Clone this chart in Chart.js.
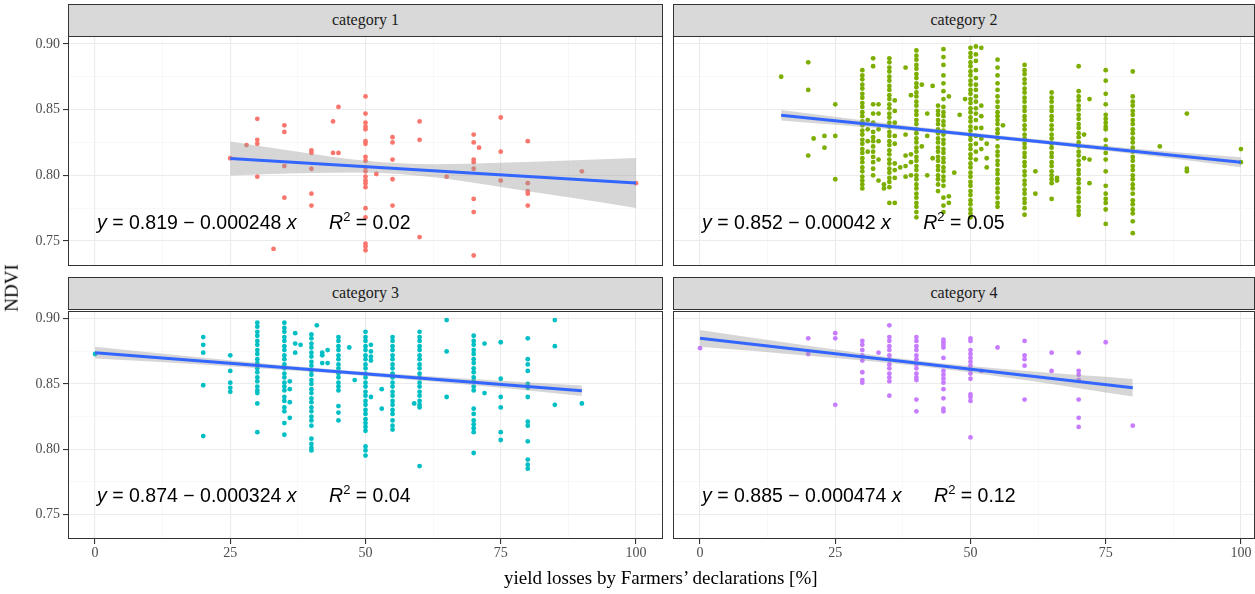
<!DOCTYPE html>
<html>
<head>
<meta charset="utf-8">
<script src="https://cdn.jsdelivr.net/npm/chart.js@4.4.1/dist/chart.umd.min.js"></script>
<style>
  html, body { margin: 0; padding: 0; background: #fff; width: 1255px; height: 594px; overflow: hidden; }
  canvas { position: absolute; }
  .strip { position: absolute; box-sizing: border-box; background: #d9d9d9; border: 1px solid #333;
           font-family: "Liberation Serif", serif; font-size: 16px; color: #1a1a1a; text-align: center; }
  .title { position: absolute; font-family: "Liberation Serif", serif; font-size: 19px; color: #000; white-space: nowrap; }
</style>
</head>
<body>
<script>
// facet labels and colours
const categories = ['category 1', 'category 2', 'category 3', 'category 4'];
const colors = ['#F8766D', '#7CAE00', '#00BFC4', '#C77CFF'];

// axis ticks
const xMajor = [0, 25, 50, 75, 100];
const xMinor = [12.5, 37.5, 62.5, 87.5];
const yMajor = [0.75, 0.80, 0.85, 0.90];
const yMinor = [0.775, 0.825, 0.875];

// points, grouped by x: [x, [ndvi values]]
const cat1Cols = [
  [25, [0.813]], [28, [0.823]], [30, [0.843, 0.827, 0.824, 0.799]],
  [33, [0.744]], [35, [0.838, 0.833, 0.807, 0.783]],
  [40, [0.819, 0.817, 0.805, 0.786, 0.777]], [44, [0.841, 0.817]], [45, [0.852, 0.817]],
  [50, [0.860, 0.847, 0.840, 0.837, 0.835, 0.826, 0.824, 0.814, 0.811, 0.806, 0.803, 0.799, 0.796, 0.794, 0.791, 0.775, 0.768, 0.748, 0.746, 0.743]],
  [52, [0.801]], [55, [0.829, 0.825, 0.812, 0.797, 0.777]], [60, [0.841, 0.827, 0.753]],
  [65, [0.799]], [70, [0.831, 0.825, 0.812, 0.810, 0.805, 0.782, 0.772, 0.739]], [71, [0.821]],
  [75, [0.844, 0.818, 0.796]], [80, [0.826, 0.794, 0.788, 0.786, 0.777]], [90, [0.803]], [100, [0.794]]
];

const cat2Cols = [
  [15, [0.875]], [20, [0.886, 0.865, 0.815]], [21, [0.828]], [23, [0.830, 0.821]], [25, [0.854, 0.830, 0.797]],
  [30, [0.880, 0.876, 0.873, 0.869, 0.866, 0.862, 0.859, 0.855, 0.852, 0.848, 0.845, 0.841, 0.838, 0.834, 0.831, 0.827, 0.824, 0.820, 0.817, 0.813, 0.810, 0.806, 0.803, 0.799, 0.796, 0.793, 0.790]],
  [31, [0.842, 0.835, 0.826, 0.818]],
  [32, [0.889, 0.883, 0.854, 0.847, 0.840, 0.833, 0.829, 0.826, 0.822, 0.818, 0.814, 0.810, 0.805, 0.800]],
  [33, [0.854, 0.847, 0.835, 0.826, 0.812, 0.796]], [34, [0.793, 0.790]],
  [35, [0.889, 0.886, 0.882, 0.879, 0.875, 0.872, 0.868, 0.865, 0.861, 0.858, 0.854, 0.851, 0.847, 0.844, 0.840, 0.837, 0.833, 0.830, 0.826, 0.823, 0.819, 0.816, 0.812, 0.809, 0.805, 0.802, 0.798, 0.795, 0.791, 0.779]],
  [36, [0.857, 0.849, 0.840, 0.830, 0.824, 0.809, 0.804, 0.798, 0.779]], [37, [0.806]],
  [38, [0.882, 0.831, 0.815, 0.807, 0.799]], [39, [0.861, 0.816, 0.810, 0.800]],
  [40, [0.895, 0.891, 0.888, 0.884, 0.881, 0.877, 0.874, 0.870, 0.867, 0.863, 0.860, 0.856, 0.853, 0.849, 0.846, 0.842, 0.839, 0.835, 0.832, 0.828, 0.825, 0.821, 0.818, 0.814, 0.811, 0.807, 0.804, 0.800, 0.797, 0.793, 0.790, 0.786, 0.783, 0.779, 0.776, 0.772, 0.768]],
  [41, [0.869, 0.822]], [42, [0.847, 0.830, 0.800]], [43, [0.868, 0.813]],
  [44, [0.853, 0.849, 0.846, 0.842, 0.839, 0.835, 0.832, 0.828, 0.825, 0.821, 0.818, 0.814, 0.811, 0.807, 0.804, 0.800, 0.797, 0.793, 0.788]],
  [45, [0.896, 0.890, 0.884, 0.876, 0.870, 0.864, 0.858, 0.852, 0.848, 0.845, 0.841, 0.838, 0.834, 0.831, 0.827, 0.824, 0.820, 0.817, 0.813, 0.810, 0.806, 0.803, 0.799, 0.796, 0.792, 0.783, 0.777, 0.772]],
  [46, [0.860, 0.784, 0.779]], [47, [0.802]], [48, [0.846]], [49, [0.858]],
  [50, [0.897, 0.893, 0.890, 0.886, 0.883, 0.879, 0.876, 0.872, 0.869, 0.865, 0.862, 0.858, 0.855, 0.851, 0.848, 0.844, 0.841, 0.837, 0.834, 0.830, 0.827, 0.823, 0.820, 0.816, 0.813, 0.809, 0.806, 0.802, 0.799, 0.795, 0.792, 0.788, 0.785, 0.781, 0.778, 0.774, 0.771, 0.768]],
  [51, [0.898, 0.892, 0.887, 0.880, 0.874, 0.869, 0.865, 0.860, 0.856, 0.851, 0.847, 0.842, 0.836, 0.830, 0.824, 0.818, 0.812]],
  [52, [0.897, 0.853, 0.845, 0.836, 0.828, 0.820]], [53, [0.824, 0.813, 0.806]],
  [55, [0.888, 0.882, 0.876, 0.870, 0.865, 0.860, 0.856, 0.852, 0.848, 0.845, 0.842, 0.839, 0.835, 0.832, 0.828, 0.822, 0.818, 0.815, 0.811, 0.808, 0.804, 0.801, 0.797, 0.794, 0.790, 0.787, 0.783, 0.779, 0.776]],
  [56, [0.838]],
  [60, [0.884, 0.880, 0.877, 0.873, 0.870, 0.866, 0.863, 0.859, 0.856, 0.852, 0.849, 0.845, 0.842, 0.838, 0.835, 0.831, 0.828, 0.824, 0.821, 0.817, 0.814, 0.810, 0.807, 0.803, 0.800, 0.796, 0.793, 0.789, 0.786, 0.782, 0.779, 0.775, 0.770]],
  [62, [0.803, 0.786]],
  [65, [0.863, 0.859, 0.856, 0.852, 0.849, 0.845, 0.842, 0.838, 0.835, 0.831, 0.828, 0.824, 0.821, 0.817, 0.814, 0.810, 0.807, 0.803, 0.800, 0.797, 0.794, 0.782]],
  [66, [0.798, 0.796]],
  [70, [0.883, 0.864, 0.860, 0.857, 0.853, 0.850, 0.846, 0.843, 0.839, 0.836, 0.832, 0.829, 0.825, 0.822, 0.818, 0.815, 0.811, 0.808, 0.804, 0.801, 0.797, 0.794, 0.790, 0.787, 0.783, 0.780, 0.776, 0.773, 0.770]],
  [71, [0.831, 0.813]], [72, [0.858, 0.812, 0.794]],
  [75, [0.880, 0.872, 0.862, 0.854, 0.846, 0.843, 0.840, 0.837, 0.835, 0.827, 0.822, 0.817, 0.812, 0.803, 0.792, 0.786, 0.782, 0.779, 0.774, 0.763]],
  [80, [0.879, 0.860, 0.856, 0.853, 0.849, 0.846, 0.842, 0.839, 0.835, 0.832, 0.828, 0.825, 0.821, 0.818, 0.814, 0.811, 0.807, 0.804, 0.800, 0.797, 0.793, 0.790, 0.786, 0.781, 0.778, 0.774, 0.771, 0.765, 0.756]],
  [85, [0.822]], [90, [0.847, 0.805, 0.803]], [100, [0.820, 0.810]]
];

const cat3Cols = [
  [0, [0.873]], [20, [0.886, 0.880, 0.874, 0.849, 0.810]], [25, [0.872, 0.860, 0.851, 0.847, 0.844]],
  [30, [0.897, 0.894, 0.890, 0.887, 0.883, 0.880, 0.876, 0.873, 0.869, 0.866, 0.862, 0.859, 0.855, 0.852, 0.848, 0.845, 0.843, 0.835, 0.813]],
  [35, [0.897, 0.893, 0.890, 0.886, 0.883, 0.879, 0.876, 0.872, 0.869, 0.865, 0.862, 0.858, 0.855, 0.851, 0.848, 0.845, 0.840, 0.837, 0.832, 0.829, 0.820, 0.811]],
  [36, [0.852, 0.846, 0.836, 0.824]], [37, [0.889, 0.881, 0.874]], [38, [0.880]],
  [40, [0.888, 0.885, 0.881, 0.878, 0.874, 0.871, 0.867, 0.864, 0.860, 0.857, 0.853, 0.850, 0.846, 0.843, 0.839, 0.836, 0.832, 0.829, 0.825, 0.822, 0.818, 0.808, 0.804, 0.801, 0.799]],
  [41, [0.895]], [42, [0.874, 0.872, 0.866]], [43, [0.876, 0.866]],
  [45, [0.886, 0.883, 0.879, 0.876, 0.872, 0.869, 0.865, 0.862, 0.858, 0.855, 0.851, 0.848, 0.845, 0.833, 0.828, 0.822]],
  [47, [0.878]], [48, [0.853]],
  [50, [0.890, 0.886, 0.883, 0.879, 0.876, 0.872, 0.869, 0.865, 0.862, 0.858, 0.855, 0.851, 0.848, 0.844, 0.841, 0.837, 0.834, 0.830, 0.827, 0.823, 0.820, 0.817, 0.814, 0.802, 0.799, 0.795]],
  [51, [0.880, 0.875, 0.871, 0.868, 0.840]], [53, [0.846, 0.831]],
  [55, [0.886, 0.883, 0.879, 0.876, 0.872, 0.869, 0.865, 0.862, 0.858, 0.855, 0.851, 0.848, 0.844, 0.841, 0.837, 0.834, 0.830, 0.827, 0.822, 0.818, 0.815]],
  [59, [0.835]],
  [60, [0.890, 0.886, 0.883, 0.879, 0.876, 0.872, 0.869, 0.865, 0.862, 0.858, 0.855, 0.851, 0.848, 0.844, 0.841, 0.837, 0.834, 0.832, 0.787]],
  [65, [0.899, 0.875, 0.840]],
  [70, [0.887, 0.883, 0.880, 0.876, 0.873, 0.869, 0.866, 0.862, 0.859, 0.855, 0.852, 0.848, 0.845, 0.831, 0.827, 0.822, 0.819, 0.816, 0.813, 0.797]],
  [72, [0.881, 0.843]], [75, [0.882, 0.854, 0.840, 0.832, 0.813, 0.807]],
  [80, [0.885, 0.869, 0.865, 0.860, 0.850, 0.847, 0.840, 0.821, 0.818, 0.806, 0.792, 0.788, 0.785]],
  [85, [0.899, 0.879, 0.834]], [90, [0.835]]
];

const cat4Cols = [
  [0, [0.8775]], [20, [0.885, 0.873]], [25, [0.889, 0.885, 0.834]],
  [30, [0.883, 0.880, 0.876, 0.872, 0.868, 0.859, 0.853, 0.851]], [33, [0.874]],
  [35, [0.895, 0.886, 0.883, 0.879, 0.876, 0.872, 0.869, 0.865, 0.862, 0.858, 0.855, 0.852, 0.841]],
  [40, [0.886, 0.883, 0.879, 0.876, 0.872, 0.869, 0.865, 0.862, 0.858, 0.855, 0.853, 0.838, 0.829]],
  [45, [0.884, 0.882, 0.880, 0.878, 0.870, 0.860, 0.857, 0.854, 0.851, 0.846, 0.839, 0.831, 0.829]],
  [50, [0.885, 0.883, 0.876, 0.873, 0.870, 0.867, 0.864, 0.861, 0.858, 0.854, 0.842, 0.840, 0.837, 0.809]],
  [52, [0.860]], [55, [0.878]], [60, [0.883, 0.872, 0.869, 0.864, 0.838]], [65, [0.874, 0.860]],
  [70, [0.874, 0.860, 0.857, 0.853, 0.838, 0.824, 0.817]], [75, [0.882]], [80, [0.818]]
];
const catCols = [cat1Cols, cat2Cols, cat3Cols, cat4Cols];

// fitted lines and confidence bands
const fitX = [[25, 100], [15, 100], [0, 90], [0, 80]];
const fitY = [[0.8128, 0.7942], [0.8457, 0.8100], [0.8740, 0.8448], [0.8850, 0.8471]];
const bandX = [
  [25, 37.5, 50, 62.5, 75, 87.5, 100],
  [15, 40, 60, 80, 100],
  [0, 22.5, 45, 67.5, 90],
  [0, 20, 40, 60, 80]
];
const bandHi = [
  [0.8258, 0.8179, 0.8111, 0.8085, 0.8096, 0.8113, 0.8132],
  [0.8497, 0.8369, 0.8283, 0.8204, 0.8138],
  [0.8785, 0.8692, 0.8609, 0.8543, 0.8488],
  [0.8915, 0.8793, 0.8680, 0.8601, 0.8539]
];
const bandLo = [
  [0.7998, 0.8015, 0.8021, 0.7985, 0.7912, 0.7833, 0.7752],
  [0.8417, 0.8335, 0.8253, 0.8164, 0.8062],
  [0.8695, 0.8642, 0.8579, 0.8499, 0.8408],
  [0.8785, 0.8717, 0.8640, 0.8531, 0.8403]
];

// equation labels
const eqIntercept = ['0.819', '0.852', '0.874', '0.885'];
const eqSlope = ['0.000248', '0.00042', '0.000324', '0.000474'];
const eqR2 = ['0.02', '0.05', '0.04', '0.12'];
const eqPosX = 0, eqPosY = 0.7595;

// panel placement (pixels)
const panels = [
  { left: 0,   top: 36,  w: 663, h: 230, yw: 68, xh: 0,  xMax: 105 },
  { left: 673, top: 36,  w: 582, h: 230, yw: 0,  xh: 0,  xMax: 102.6 },
  { left: 0,   top: 311, w: 663, h: 268, yw: 68, xh: 40, xMax: 105 },
  { left: 673, top: 311, w: 582, h: 268, yw: 0,  xh: 40, xMax: 102.6 }
];
const strips = [[68, 4], [673, 4], [68, 277], [673, 277]];

const toPoints = cols => cols.flatMap(([x, ys]) => ys.map(y => ({ x, y })));
const zip = (xs, ys) => xs.map((x, i) => ({ x, y: ys[i] }));

const framePlugin = {
  id: 'frame',
  afterDraw(chart) {
    const a = chart.chartArea, ctx = chart.ctx;
    ctx.save();
    ctx.strokeStyle = '#333333';
    ctx.lineWidth = 1;
    ctx.strokeRect(a.left + 0.5, a.top + 0.5, a.width - 1, a.height - 1);
    ctx.restore();
  }
};

const eqPlugin = {
  id: 'eq',
  afterDatasetsDraw(chart, args, o) {
    const ctx = chart.ctx;
    let x = chart.scales.x.getPixelForValue(eqPosX) + 2;
    const y = chart.scales.y.getPixelForValue(eqPosY);
    const it = 'italic 19.5px "Liberation Sans"', rg = '19.5px "Liberation Sans"', sm = '13px "Liberation Sans"';
    const parts = [
      [it, 'y', 0], [rg, ' = ' + o.a + ' \u2212 ' + o.b + ' ', 0], [it, 'x', 0],
      [rg, '      ', 0], [it, 'R', 0], [sm, '2', -8], [rg, ' = ' + o.r2, 0]
    ];
    ctx.save();
    ctx.fillStyle = '#000';
    ctx.textBaseline = 'alphabetic';
    parts.forEach(([f, t, dy]) => {
      ctx.font = f;
      ctx.fillText(t, x, y + dy);
      x += ctx.measureText(t).width;
    });
    ctx.restore();
  }
};

const isIn = (arr, v) => arr.some(a => Math.abs(a - v) < 1e-9);
const noPad = sc => { sc.paddingLeft = 0; sc.paddingRight = 0; sc.paddingTop = 0; sc.paddingBottom = 0; };

categories.forEach((name, i) => {
  const p = panels[i];
  const s = document.createElement('div');
  s.className = 'strip';
  s.style.left = strips[i][0] + 'px';
  s.style.top = strips[i][1] + 'px';
  s.style.width = (i % 2 ? 582 : 595) + 'px';
  s.style.height = '33px';
  s.style.lineHeight = '30px';
  s.textContent = name;
  document.body.appendChild(s);

  const c = document.createElement('canvas');
  c.width = p.w; c.height = p.h;
  c.style.left = p.left + 'px'; c.style.top = p.top + 'px';
  document.body.appendChild(c);

  new Chart(c.getContext('2d'), {
    type: 'scatter',
    data: {
      datasets: [
        { data: zip(fitX[i], fitY[i]), showLine: true, borderColor: '#3366FF', borderWidth: 3, pointRadius: 0 },
        { data: zip(bandX[i], bandHi[i]), showLine: true, borderColor: 'rgba(0,0,0,0)', borderWidth: 0, pointRadius: 0,
          fill: '+1', backgroundColor: 'rgba(153,153,153,0.4)', cubicInterpolationMode: 'monotone' },
        { data: zip(bandX[i], bandLo[i]), showLine: true, borderColor: 'rgba(0,0,0,0)', borderWidth: 0, pointRadius: 0,
          fill: false, cubicInterpolationMode: 'monotone' },
        { data: toPoints(catCols[i]), pointRadius: 2.4, pointBackgroundColor: colors[i], pointBorderWidth: 0, backgroundColor: colors[i] }
      ]
    },
    options: {
      responsive: false,
      animation: false,
      events: [],
      layout: { padding: 0, autoPadding: false },
      plugins: {
        legend: { display: false },
        tooltip: { enabled: false },
        eq: { a: eqIntercept[i], b: eqSlope[i], r2: eqR2[i] }
      },
      scales: {
        x: {
          type: 'linear', min: -5, max: p.xMax,
          afterBuildTicks: sc => { sc.ticks = [...xMajor, ...xMinor].sort((a, b) => a - b).map(v => ({ value: v })); },
          afterFit: sc => { sc.height = p.xh; noPad(sc); },
          border: { display: false },
          grid: {
            color: c => isIn(xMajor, c.tick.value) ? '#EBEBEB' : '#F3F3F3',
            lineWidth: c => isIn(xMajor, c.tick.value) ? 1.1 : 0.6,
            drawTicks: p.xh > 0, tickLength: 5,
            tickColor: c => isIn(xMajor, c.tick.value) ? '#333333' : 'rgba(0,0,0,0)'
          },
          ticks: {
            display: p.xh > 0, autoSkip: false, maxRotation: 0, padding: 1, color: '#4d4d4d',
            font: { family: 'Liberation Serif', size: 14 },
            callback: v => isIn(xMajor, v) ? String(v) : ''
          }
        },
        y: {
          type: 'linear', min: 0.731, max: 0.906,
          afterBuildTicks: sc => { sc.ticks = [...yMajor, ...yMinor].sort((a, b) => a - b).map(v => ({ value: v })); },
          afterFit: sc => { sc.width = p.yw; noPad(sc); },
          border: { display: false },
          grid: {
            color: c => isIn(yMajor, c.tick.value) ? '#EBEBEB' : '#F3F3F3',
            lineWidth: c => isIn(yMajor, c.tick.value) ? 1.1 : 0.6,
            drawTicks: p.yw > 0, tickLength: 5,
            tickColor: c => isIn(yMajor, c.tick.value) ? '#333333' : 'rgba(0,0,0,0)'
          },
          ticks: {
            display: p.yw > 0, autoSkip: false, padding: 3, color: '#4d4d4d',
            font: { family: 'Liberation Serif', size: 14 },
            callback: v => isIn(yMajor, v) ? v.toFixed(2) : ''
          }
        }
      }
    },
    plugins: [framePlugin, eqPlugin]
  });
});

const xt = document.createElement('div');
xt.className = 'title';
xt.textContent = 'yield losses by Farmers\u2019 declarations [%]';
document.body.appendChild(xt);
xt.style.left = (661 - xt.offsetWidth / 2) + 'px';
xt.style.top = (578 - xt.offsetHeight / 2) + 'px';

const yt = document.createElement('div');
yt.className = 'title';
yt.textContent = 'NDVI';
document.body.appendChild(yt);
yt.style.left = (12 - yt.offsetWidth / 2) + 'px';
yt.style.top = (288 - yt.offsetHeight / 2) + 'px';
yt.style.transform = 'rotate(-90deg)';
</script>
</body>
</html>
